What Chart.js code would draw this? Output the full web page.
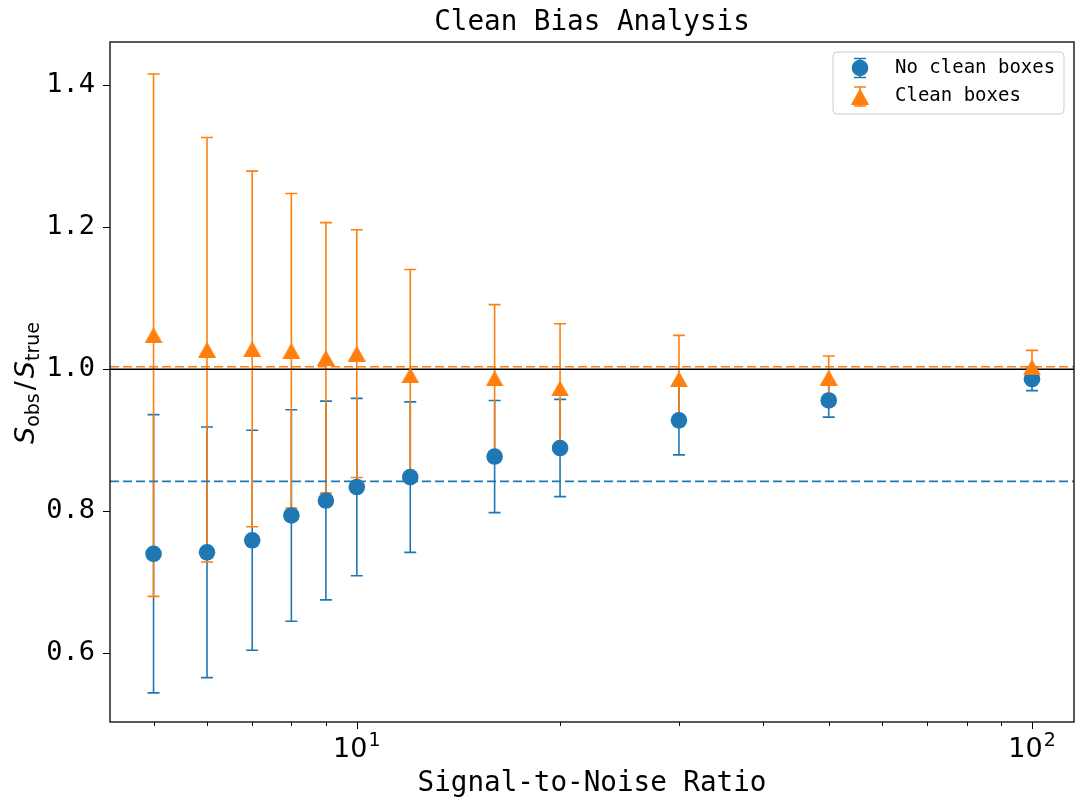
<!DOCTYPE html>
<html lang="en">
<head>
  <meta charset="UTF-8">
  <title>Clean Bias Analysis</title>
  <script src="https://cdn.jsdelivr.net/npm/chart.js"></script>
  <style>
    body { margin: 0; background: #fff; }
    canvas { display: block; }
  </style>
</head>
<body>
<canvas id="biasChart" width="1076" height="802"></canvas>
<script>
// data
const snr = [5, 6, 7, 8, 9, 10, 12, 16, 20, 30, 50, 100];
const noClean = [0.740, 0.742, 0.759, 0.794, 0.815, 0.834, 0.848, 0.877, 0.889, 0.928, 0.956, 0.986];
const noCleanErr = [0.196, 0.1765, 0.155, 0.149, 0.140, 0.125, 0.106, 0.079, 0.0685, 0.0486, 0.0235, 0.0161];
const clean = [1.048, 1.0275, 1.0286, 1.026, 1.016, 1.022, 0.9915, 0.987, 0.973, 0.986, 0.988, 1.003];
const cleanErr = [0.368, 0.299, 0.2505, 0.2215, 0.1905, 0.1745, 0.149, 0.104, 0.091, 0.0617, 0.0306, 0.0236];
const noCleanMean = 0.842;
const cleanMean = 1.0035;
const xTicks = [5, 6, 7, 8, 9, 10, 20, 30, 40, 50, 60, 70, 80, 90, 100];
const xMajor = { 10: ['10', '1'], 100: ['10', '2'] };   // 10^1, 10^2
const yTicks = [0.6, 0.8, 1.0, 1.2, 1.4];
const xRange = [4.31, 115.4];
const yRange = [0.503, 1.461];

const BLUE = '#1f77b4', ORANGE = '#ff7f0e';
const MONO = "'DejaVu Sans Mono', monospace";

// triangle marker like matplotlib '^' (centred on its box)
function makeTriangle(w, h, color) {
  const c = document.createElement('canvas');
  c.width = w; c.height = h;
  const g = c.getContext('2d');
  g.fillStyle = color;
  g.beginPath();
  g.moveTo(w / 2, 0); g.lineTo(w, h); g.lineTo(0, h); g.closePath();
  g.fill();
  return c;
}
const triangle = makeTriangle(18, 16, ORANGE);

const pts = (xs, ys) => xs.map((x, i) => ({ x: x, y: ys[i] }));
const hline = (v) => [{ x: xRange[0], y: v }, { x: xRange[1], y: v }];

// error bars, axes frame, ticks, titles and legend
const extras = {
  id: 'extras',
  beforeDatasetsDraw(chart) {
    const ctx = chart.ctx, xs = chart.scales.x, ys = chart.scales.y;
    const series = [[noClean, noCleanErr, BLUE], [clean, cleanErr, ORANGE]];
    ctx.save();
    ctx.lineWidth = 1.6;
    series.forEach(([vals, errs, col]) => {
      ctx.strokeStyle = col;
      vals.forEach((v, i) => {
        const px = xs.getPixelForValue(snr[i]);
        const top = ys.getPixelForValue(v + errs[i]);
        const bot = ys.getPixelForValue(v - errs[i]);
        ctx.beginPath();
        ctx.moveTo(px, top); ctx.lineTo(px, bot);
        ctx.moveTo(px - 6, top); ctx.lineTo(px + 6, top);
        ctx.moveTo(px - 6, bot); ctx.lineTo(px + 6, bot);
        ctx.stroke();
      });
    });
    ctx.restore();
  },
  afterDraw(chart) {
    const ctx = chart.ctx, a = chart.chartArea;
    const xs = chart.scales.x, ys = chart.scales.y;
    ctx.save();
    // frame
    ctx.strokeStyle = '#000';
    ctx.lineWidth = 1.3;
    ctx.strokeRect(a.left, a.top, a.right - a.left, a.bottom - a.top);
    // ticks
    ctx.lineWidth = 1;
    ctx.beginPath();
    yTicks.forEach(v => {
      const py = Math.round(ys.getPixelForValue(v)) + 0.5;
      ctx.moveTo(a.left - 7, py); ctx.lineTo(a.left, py);
    });
    xTicks.forEach(v => {
      const px = Math.round(xs.getPixelForValue(v)) + 0.5;
      const len = xMajor[v] ? 7 : 4;
      ctx.moveTo(px, a.bottom); ctx.lineTo(px, a.bottom + len);
    });
    ctx.stroke();

    // x tick labels with superscript exponent
    ctx.fillStyle = '#000';
    ctx.textAlign = 'left';
    ctx.textBaseline = 'alphabetic';
    Object.keys(xMajor).forEach(k => {
      const [base, exp] = xMajor[k];
      const px = xs.getPixelForValue(Number(k));
      ctx.font = '27px "DejaVu Sans"';
      const wb = ctx.measureText(base).width;
      ctx.font = '19px "DejaVu Sans"';
      const we = ctx.measureText(exp).width;
      const x0 = px - (wb + we + 1) / 2;
      ctx.font = '27px "DejaVu Sans"';
      ctx.fillText(base, x0, 757);
      ctx.font = '19px "DejaVu Sans"';
      ctx.fillText(exp, x0 + wb + 1, 746);
    });

    // title and x label
    ctx.textAlign = 'center';
    ctx.font = '27.6px ' + MONO;
    const cx = (a.left + a.right) / 2;
    ctx.fillText('Clean Bias Analysis', cx, 30);
    ctx.fillText('Signal-to-Noise Ratio', cx, 791);

    // y label  S_obs / S_true
    const parts = [
      ['S', 'italic 27px "DejaVu Sans"', 0, 0],
      ['obs', '19px "DejaVu Sans"', 5, 3],
      ['/', '27px "DejaVu Sans"', 0, 3],
      ['S', 'italic 27px "DejaVu Sans"', 0, 0],
      ['true', '19px "DejaVu Sans"', 5, 0]
    ];
    ctx.translate(34, (a.top + a.bottom) / 2 + 1);
    ctx.rotate(-Math.PI / 2);
    ctx.textAlign = 'left';
    let total = 0;
    parts.forEach(p => { ctx.font = p[1]; total += ctx.measureText(p[0]).width + p[3]; });
    let off = -total / 2;
    parts.forEach(p => {
      ctx.font = p[1];
      ctx.fillText(p[0], off, p[2]);
      off += ctx.measureText(p[0]).width + p[3];
    });
    ctx.restore();

    // legend
    ctx.save();
    const lx = 833, ly = 52, lw = 231, lh = 62;
    ctx.beginPath();
    ctx.roundRect(lx, ly, lw, lh, 4);
    ctx.fillStyle = 'rgba(255,255,255,0.8)';
    ctx.fill();
    ctx.strokeStyle = '#cccccc';
    ctx.lineWidth = 1;
    ctx.stroke();
    const rows = [['No clean boxes', BLUE, 'circle', 68], ['Clean boxes', ORANGE, 'tri', 96.5]];
    rows.forEach(([label, col, shape, ry]) => {
      const mx = 860;
      ctx.strokeStyle = col;
      ctx.lineWidth = 1.6;
      ctx.beginPath();
      ctx.moveTo(mx, ry - 9.5); ctx.lineTo(mx, ry + 9.5);
      ctx.moveTo(mx - 6, ry - 9.5); ctx.lineTo(mx + 6, ry - 9.5);
      ctx.moveTo(mx - 6, ry + 9.5); ctx.lineTo(mx + 6, ry + 9.5);
      ctx.stroke();
      if (shape === 'circle') {
        ctx.fillStyle = col;
        ctx.beginPath();
        ctx.arc(mx, ry, 8.3, 0, Math.PI * 2);
        ctx.fill();
      } else {
        ctx.drawImage(triangle, mx - 9, ry - 8);
      }
      ctx.fillStyle = '#000';
      ctx.font = '19px ' + MONO;
      ctx.textAlign = 'left';
      ctx.textBaseline = 'middle';
      ctx.fillText(label, 895, ry);
    });
    ctx.restore();
  }
};

new Chart(document.getElementById('biasChart'), {
  type: 'scatter',
  data: {
    datasets: [
      {
        label: 'No clean boxes',
        data: pts(snr, noClean),
        pointStyle: 'circle',
        pointRadius: 8.3,
        backgroundColor: BLUE,
        borderWidth: 0,
        order: 1
      },
      {
        label: 'Clean boxes',
        data: pts(snr, clean),
        pointStyle: triangle,
        backgroundColor: ORANGE,
        order: 0
      },
      {
        type: 'line',
        data: hline(1.0),
        borderColor: '#000',
        borderWidth: 1.5,
        pointRadius: 0,
        order: 4
      },
      {
        type: 'line',
        data: hline(cleanMean),
        borderColor: ORANGE,
        borderWidth: 1.6,
        borderDash: [9, 4],
        pointRadius: 0,
        order: 3
      },
      {
        type: 'line',
        data: hline(noCleanMean),
        borderColor: BLUE,
        borderWidth: 1.6,
        borderDash: [9, 4],
        pointRadius: 0,
        order: 3
      }
    ]
  },
  options: {
    responsive: false,
    animation: false,
    devicePixelRatio: 1,
    layout: { autoPadding: false, padding: { top: 42, right: 2, left: 0, bottom: 0 } },
    plugins: {
      legend: { display: false },
      tooltip: { enabled: false },
      title: { display: false }
    },
    scales: {
      x: {
        type: 'logarithmic',
        min: xRange[0],
        max: xRange[1],
        afterFit: s => { s.height = 80; },
        afterBuildTicks: s => { s.ticks = xTicks.map(v => ({ value: v })); },
        grid: { drawOnChartArea: false, drawTicks: false },
        border: { display: false },
        ticks: {
          autoSkip: false,
          maxRotation: 0,
          callback: () => ''
        }
      },
      y: {
        min: yRange[0],
        max: yRange[1],
        afterFit: s => { s.width = 110; },
        afterBuildTicks: s => { s.ticks = yTicks.map(v => ({ value: v })); },
        grid: { drawOnChartArea: false, drawTicks: false },
        border: { display: false },
        ticks: {
          padding: 15,
          color: '#000',
          font: { family: MONO, size: 27 },
          callback: v => v.toFixed(1)
        }
      }
    }
  },
  plugins: [extras]
});
</script>
</body>
</html>
